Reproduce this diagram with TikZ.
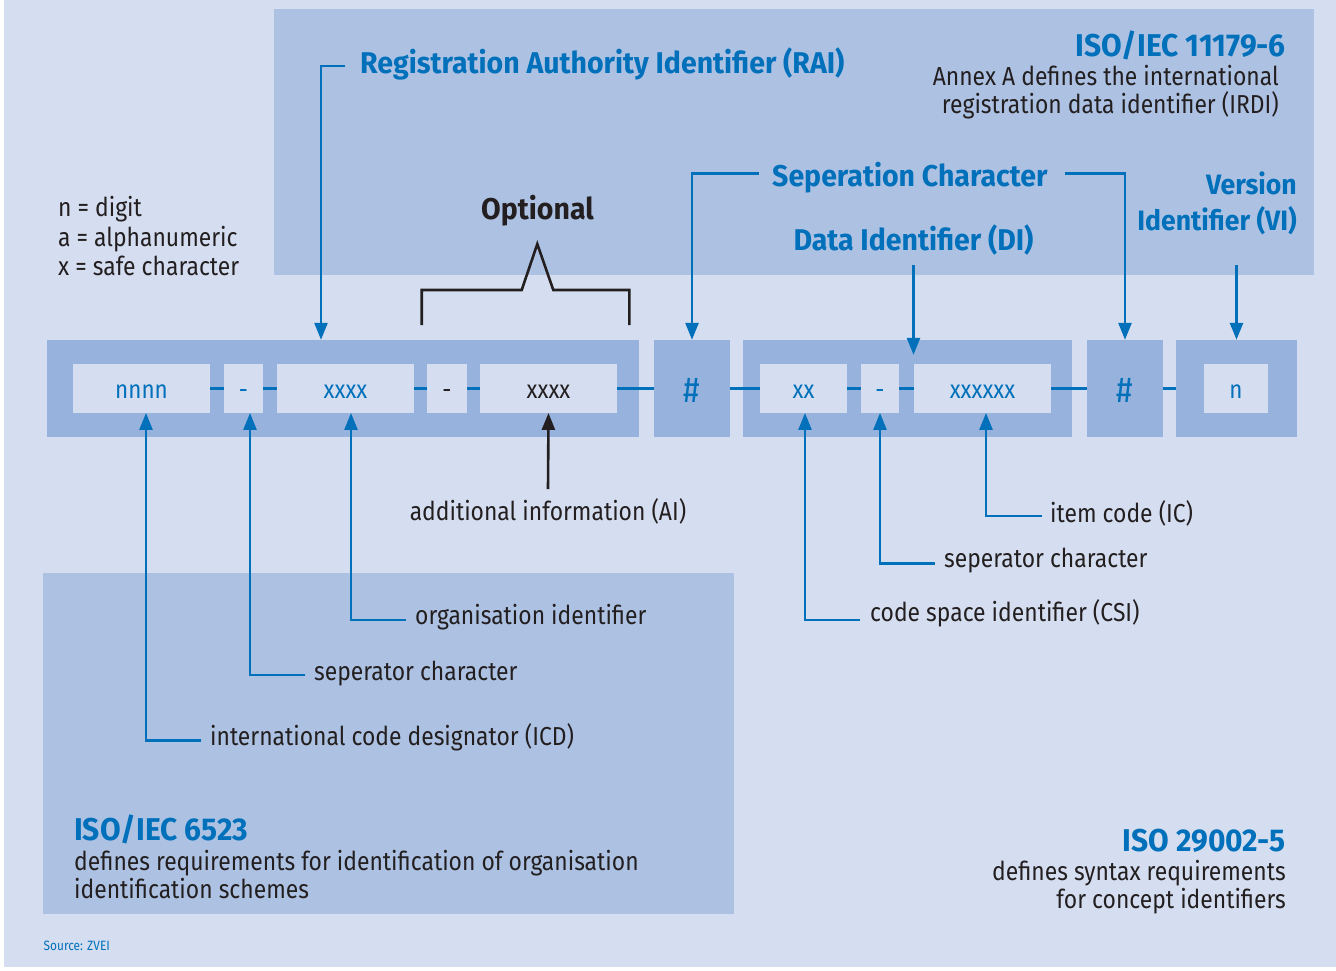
\documentclass[tikz,border=0pt]{standalone}
\usepackage{fontspec}
\setmainfont[FakeStretch=0.88]{Fira Sans}
\newfontfamily\headfont[FakeStretch=0.95]{Fira Sans}
\usetikzlibrary{arrows.meta}
\definecolor{pale}{HTML}{D5DEF0}
\definecolor{panel}{HTML}{ADC2E3}
\definecolor{field}{HTML}{97B2DC}
\definecolor{zvei}{HTML}{0070BA}
\definecolor{ink}{HTML}{231F20}
\tikzstyle{field box}=[fill=field,inner sep=0pt,minimum height=97pt,text=zvei,text height=27pt,text depth=0pt,font=\fontsize{36}{40}\selectfont]
\tikzstyle{slot box}=[fill=pale,inner sep=0pt,minimum height=48.5pt,text=zvei,text height=20pt,text depth=0pt,font=\fontsize{25.5}{28}\selectfont]
\tikzstyle{link}=[draw=zvei,line width=3.2pt]
\tikzstyle{pointer}=[draw=zvei,line width=2.6pt,-{Triangle[length=17pt,width=13pt]}]
\tikzstyle{brace line}=[draw=ink,line width=2.6pt]
\tikzstyle{note}=[anchor=base west,inner sep=0pt,text=ink,font=\fontsize{26}{29}\selectfont]
\tikzstyle{heading}=[anchor=base west,inner sep=0pt,text=zvei,font=\headfont\bfseries\fontsize{30}{34}\selectfont]
\tikzstyle{standard}=[heading,font=\headfont\bfseries\fontsize{31.5}{34}\selectfont]

\begin{document}
\begin{tikzpicture}[x=1pt,y=-1pt]
          \useasboundingbox (0,0) rectangle (1336,970);
          \fill[pale] (4,0) rectangle (1336,967);
          \fill[panel] (274,9) rectangle (1314,275);
          \fill[panel] (43,573) rectangle (734,914);
          % identifier fields
          \node[field box,minimum width=592pt] (rai box) at (343,388.5) {};
          \node[slot box,minimum width=137pt] (icd) at (141.5,388.5) {nnnn};
          \node[slot box,minimum width=39pt] (sep1) at (243.5,388.5) {-};
          \node[slot box,minimum width=137pt] (org) at (345.5,388.5) {xxxx};
          \node[slot box,minimum width=40pt,text=ink] (sep2) at (447,388.5) {-};
          \node[slot box,minimum width=137pt,text=ink] (ai) at (548.5,388.5) {xxxx};
          \node[field box,minimum width=76pt] (hash1) at (692,388.5) {\#};
          \node[field box,minimum width=329pt] (di box) at (907.5,388.5) {};
          \node[slot box,minimum width=87pt] (csi) at (803.5,388.5) {xx};
          \node[slot box,minimum width=38pt] (sep3) at (880,388.5) {-};
          \node[slot box,minimum width=137pt] (ic) at (982.5,388.5) {xxxxxx};
          \node[field box,minimum width=76pt] (hash2) at (1125,388.5) {\#};
          \node[field box,minimum width=121pt] (vi box) at (1236.5,388.5) {};
          \node[slot box,minimum width=64pt] (vi) at (1236,388.5) {n};
          \draw[link] (icd) -- (sep1) -- (org) -- (sep2) -- (ai) -- (hash1) -- (csi) -- (sep3) -- (ic) -- (hash2) -- (vi box);
          % legend
          \node[note] (legend n) at (58,216.7) {n = digit};
          \node[note] (legend a) at (58,246) {a = alphanumeric};
          \node[note] (legend x) at (58,275.3) {x = safe character};
          % top labels
          \node[standard,anchor=base east] (iso11179) at (1286,56) {ISO/IEC 11179-6};
          \node[note,anchor=base east] (annex1) at (1279,85) {Annex A defines the international};
          \node[note,anchor=base east] (annex2) at (1279,113) {registration data identifier (IRDI)};
          \node[heading] (rai) at (360,73) {Registration Authority Identifier (RAI)};
          \node[heading] (sepchar) at (772,186) {Seperation Character};
          \node[heading,anchor=base] (dilbl) at (913.5,250) {Data Identifier (DI)};
          \node[heading,anchor=base east,font=\headfont\bfseries\fontsize{28}{32}\selectfont] (vilbl1) at (1297,194) {Version};
          \node[heading,anchor=base east,font=\headfont\bfseries\fontsize{28}{32}\selectfont] (vilbl2) at (1297,230) {Identifier (VI)};
          \draw[pointer] ([shift={(-15,-7)}]rai.base west) -| ([xshift=-22pt]rai box.north);
          \draw[pointer] ([shift={(-13,-12.5)}]sepchar.base west) -| (hash1.north);
          \draw[pointer] ([shift={(17,-12.5)}]sepchar.base east) -| (hash2.north);
          \draw[pointer] ([yshift=-15pt]dilbl.base) -- ([yshift=-15pt]dilbl.base |- di box.north);
          \draw[pointer] ([yshift=75pt]vi box.north) -- (vi box.north);
          % optional part
          \node[heading,anchor=base,text=ink] (opt) at (537.5,219) {Optional};
          \draw[brace line] (421.7,325) -- (421.7,290) -- (521.7,290) -- (537.3,244) -- (553.3,290) -- (629.3,290) -- (629.3,325);
          % bottom labels
          \node[note] (icdlbl) at (210,745) {international code designator (ICD)};
          \node[note] (seplbl) at (314,680) {seperator character};
          \node[note] (orglbl) at (415,624) {organisation identifier};
          \node[note,anchor=base] (ailbl) at (548,520) {additional information (AI)};
          \node[note] (csilbl) at (870,621) {code space identifier (CSI)};
          \node[note] (sep3lbl) at (944,567) {seperator character};
          \node[note] (iclbl) at (1050,522) {item code (IC)};
          \draw[pointer] ([shift={(-9,-4.3)}]icdlbl.base west) -| ([xshift=4.5pt]icd.south);
          \draw[pointer] ([shift={(-9,-5)}]seplbl.base west) -| ([xshift=6.5pt]sep1.south);
          \draw[pointer] ([shift={(-9,-4)}]orglbl.base west) -| ([xshift=5.5pt]org.south);
          \draw[pointer,draw=ink] ([yshift=31pt]ailbl.base) -- (ai.south);
          \draw[pointer] ([shift={(-10,-1)}]csilbl.base west) -| ([xshift=1.5pt]csi.south);
          \draw[pointer] ([shift={(-9.5,-3.3)}]sep3lbl.base west) -| (sep3.south);
          \draw[pointer] ([shift={(-8,-6)}]iclbl.base west) -| ([xshift=3.5pt]ic.south);
          % standards
          \node[standard] (iso6523) at (74,840) {ISO/IEC 6523};
          \node[note] (req1) at (74,870) {defines requirements for identification of organisation};
          \node[note] (req2) at (74,898) {identification schemes};
          \node[standard,anchor=base east] (iso29002) at (1286,851) {ISO 29002-5};
          \node[note,anchor=base east] (syn1) at (1286,880) {defines syntax requirements};
          \node[note,anchor=base east] (syn2) at (1286,908) {for concept identifiers};
          \node[note,text=zvei,font=\fontsize{13.5}{15}\selectfont] (src) at (43.5,950) {Source: ZVEI};
\end{tikzpicture}
\end{document}
